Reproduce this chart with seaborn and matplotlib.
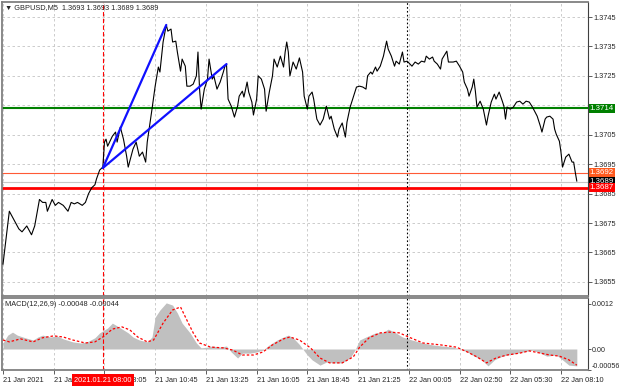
import matplotlib
matplotlib.use('Agg')
import matplotlib.pyplot as plt
import seaborn as sns
import pandas as pd

# GBPUSD M5 close, bar index -> price
price_bar = [0, 4, 6, 10, 12, 15, 18, 20, 23, 25, 27, 28, 31, 33, 35, 38, 41, 43, 45, 47,
             50, 52, 54, 56, 58, 59, 61, 63,
             64, 65, 66, 69, 71, 72, 74, 76, 78, 79, 82, 84, 86, 88, 90, 91, 94, 96, 98, 99,
             101, 103, 104, 106, 107, 109, 110, 112, 113, 115, 116, 118, 120, 122, 123, 124, 125, 127, 129, 130,
             132, 133, 135, 137, 139, 140, 141, 142, 144, 146, 148, 149, 151, 152, 154, 155, 157, 158, 160, 161,
             163, 165, 166, 168, 170, 171, 173, 175, 177, 178, 179, 180,
             181, 183, 185, 187, 189, 190, 192, 193, 195, 196, 198, 200, 202, 204, 206, 207, 209, 211, 212, 214,
             216, 217, 219, 221, 223, 225, 227, 229, 230, 232, 233, 235, 236, 238, 240, 242, 243, 245, 247, 248,
             250, 252, 253, 255, 258, 260, 262, 264, 266, 267, 269, 271, 272, 274, 276, 277, 280, 281, 284, 286,
             288, 290, 291, 293, 294, 296, 297, 298, 299, 301, 303, 305, 306, 308, 310, 311, 313, 315, 316, 317,
             318, 320, 322, 324, 326, 328, 330, 332, 334, 337, 339, 340, 342, 343, 345, 347, 348, 349, 351, 352,
             353, 355, 357, 359, 360, 361, 362]
price_val = [1.3661, 1.3679, 1.3677, 1.3673, 1.3672, 1.3674, 1.3671, 1.3674, 1.3683, 1.3682, 1.3682, 1.3679, 1.3683, 1.3681, 1.3682, 1.3681, 1.3679, 1.3682, 1.36815, 1.3682,
             1.3681, 1.3682, 1.3685, 1.3687, 1.3688, 1.3690, 1.3693, 1.3694,
             1.37025, 1.37035, 1.37011, 1.37045, 1.37059, 1.37025, 1.37076, 1.37035, 1.36977, 1.3694, 1.37001, 1.37025, 1.36977, 1.36991, 1.36957, 1.37025, 1.37137, 1.37215, 1.3728, 1.37263,
             1.37365, 1.37423, 1.37402, 1.37409, 1.37365, 1.37368, 1.37331, 1.37266, 1.37307, 1.37283, 1.37215, 1.37215, 1.37222, 1.3725, 1.37331, 1.37205, 1.37137, 1.37205, 1.37239, 1.37307,
             1.37239, 1.3725, 1.37205, 1.37229, 1.37263, 1.37283, 1.3729, 1.37171, 1.37147, 1.3711, 1.37147, 1.37181, 1.37198, 1.37178, 1.37229, 1.37195, 1.37161, 1.37117, 1.37171, 1.3725,
             1.37239, 1.37205, 1.3713, 1.37195, 1.3725, 1.37307, 1.3728, 1.37317, 1.3728, 1.37331, 1.37365, 1.37331,
             1.3725, 1.37297, 1.37273, 1.37311, 1.37263, 1.37181, 1.37137, 1.37181, 1.37195, 1.37171, 1.37103, 1.37083, 1.37103, 1.37147, 1.37103, 1.37113, 1.37069, 1.37042, 1.37069, 1.3709,
             1.37042, 1.37093, 1.37144, 1.37178, 1.37212, 1.37215, 1.37212, 1.37205, 1.3725, 1.37263, 1.37256, 1.3728, 1.37266, 1.37283, 1.37317, 1.37368, 1.37341, 1.37317, 1.37283, 1.373,
             1.3729, 1.37331, 1.37297, 1.373, 1.37283, 1.37297, 1.3729, 1.373, 1.37297, 1.37317, 1.37307, 1.37314, 1.373, 1.3729, 1.37273, 1.37307, 1.37334, 1.37297, 1.37297, 1.373,
             1.37283, 1.37263, 1.37229, 1.37205, 1.37181, 1.37212, 1.37239, 1.37198, 1.37144, 1.37164, 1.37137, 1.37083, 1.37113, 1.37161, 1.37188, 1.37171, 1.37195, 1.37164, 1.37147, 1.37103,
             1.37144, 1.37137, 1.37144, 1.37161, 1.37164, 1.37154, 1.37164, 1.37161, 1.37144, 1.37113, 1.37079, 1.37059, 1.37103, 1.3711, 1.37113, 1.37103, 1.37069, 1.37052, 1.37028, 1.36991,
             1.3694, 1.36974, 1.36984, 1.36957, 1.36957, 1.36923, 1.36892]

# MACD(12,26,9): main as histogram, signal as dotted line
hist_bar = [0, 3, 6, 9, 14, 19, 22, 25, 30, 34, 38, 44, 49, 53, 58, 61, 66, 69, 73, 76,
            79, 82, 86, 91, 94, 96, 99, 103, 107, 110, 113, 118, 122, 125, 129, 132, 137, 141, 144, 148,
            151, 156, 160, 164, 168, 173, 177, 180, 183, 187, 190, 192, 195, 200, 204, 208, 214, 219, 222, 225,
            229, 235, 240, 243, 247, 252, 258, 265, 271, 277, 284, 288, 293, 296, 302, 306, 310, 315, 322, 328,
            334, 339, 343, 349, 353, 357, 362]
hist_val = [0.00016, 0.00037, 0.00045, 0.00037, 0.0003, 0.00024, 0.00032, 0.00037, 0.00032, 0.00035,
            0.00027, 0.00019, 0.00016, 0.00019, 0.0003, 0.00043, 0.00056, 0.00069, 0.00059, 0.00051,
            0.00043, 0.00032, 0.00024, 0.00019, 0.00032, 0.00085, 0.00104, 0.00123, 0.00117, 0.00096,
            0.00069, 0.00043, 0.00016, 0.00003, 0.00005, 0.00008, 0.00005, 0.00008, -0.00008, -0.00024,
            -0.00011, -0.00011, -0.00008, -0.00003, 0.00011, 0.00024, 0.00032, 0.00037, 0.0003, 0.00012,
            -0.00005, -0.00016, -0.00029, -0.00043, -0.00035, -0.00037, -0.00037, -0.00024, -0.00003, 0.00024,
            0.00032, 0.00043, 0.00045, 0.00053, 0.00045, 0.00032, 0.00024, 0.00016, 0.00011, 0.00008,
            0.00005, 0.0, -0.00008, -0.00016, -0.00029, -0.00045, -0.00029, -0.00019, -0.00013, -0.00008,
            -0.00003, -0.00011, -0.00019, -0.00016, -0.00029, -0.00043, -0.00045]
sig_bar = [0, 4, 11, 19, 25, 32, 38, 44, 52, 58, 63, 69, 75, 80, 85, 91, 95, 101, 107, 112,
           116, 120, 124, 131, 139, 145, 151, 158, 164, 170, 177, 181, 187, 194, 200, 206, 214, 221, 225, 231,
           238, 244, 250, 257, 265, 276, 286, 293, 299, 305, 311, 318, 326, 332, 339, 345, 351, 357, 362]
sig_val = [0.00024, 0.00019, 0.00027, 0.00019, 0.0003, 0.00035, 0.00032, 0.00024, 0.00016, 0.00019,
           0.00032, 0.00053, 0.00059, 0.00051, 0.00032, 0.00019, 0.00024, 0.00069, 0.00104, 0.00112,
           0.00077, 0.00043, 0.00016, 0.00005, 0.00003, -0.00003, -0.00016, -0.00016, -0.00008, 0.00011,
           0.00027, 0.00032, 0.00024, 0.00003, -0.00024, -0.00037, -0.00037, -0.00021, 0.00005, 0.0003,
           0.00043, 0.00045, 0.00043, 0.0003, 0.00016, 0.00011, 0.00005, -0.00008, -0.00021, -0.00037,
           -0.00024, -0.00016, -0.00011, -0.00005, -0.00011, -0.00016, -0.00019, -0.00029, -0.00043]

# drawn objects
trend_a_bar, trend_a_val = [63, 103], [1.36937, 1.37423]
trend_b_bar, trend_b_val = [63, 141], [1.36937, 1.3729]
level_green, level_red, level_orange, bid = 1.3714, 1.3687, 1.3692, 1.3689
vline_bar, sep_bar = 63, 255

price_ticks = [1.3655, 1.3665, 1.3675, 1.3685, 1.3695, 1.3705, 1.3715, 1.3725, 1.3735, 1.3745]
price_labels = ['1.3655', '1.3665', '1.3675', '1.3685', '1.3695', '1.3705', '', '1.3725', '1.3735', '1.3745']
macd_ticks = [-0.00056, 0.0, 0.0012]
macd_labels = ['-0.00056', '0.00', '0.0012']
time_ticks = [0, 32, 64, 96, 128, 160, 192, 224, 256, 288, 320, 352]
time_labels = ['21 Jan 2021', '21 Jan 05:25', '21 Jan 08:05', '21 Jan 10:45', '21 Jan 13:25', '21 Jan 16:05',
               '21 Jan 18:45', '21 Jan 21:25', '22 Jan 00:05', '22 Jan 02:50', '22 Jan 05:30', '22 Jan 08:10']

df = pd.DataFrame({'bar': price_bar, 'price': price_val})
hist = pd.DataFrame({'bar': hist_bar, 'macd': hist_val})
sig = pd.DataFrame({'bar': sig_bar, 'signal': sig_val})

sns.set_style('white')
plt.rcParams['font.family'] = ['Liberation Sans', 'DejaVu Sans']
plt.rcParams['font.size'] = 5.3
FS = 5.3

W, H = 620, 388
fig = plt.figure(figsize=(6.2, 3.88), dpi=100)
x0, x1 = 2.2 / W, 587.6 / W
ax = fig.add_axes([x0, 1 - 296 / H, x1 - x0, 294 / H])
ax2 = fig.add_axes([x0, 1 - 370 / H, x1 - x0, 72 / H], sharex=ax)

grid_kw = dict(color='#c4c4c4', ls=(0, (3, 3)), lw=0.6)

# price panel
sns.lineplot(data=df, x='bar', y='price', ax=ax, color='black', lw=0.8, estimator=None, zorder=3)
sns.lineplot(x=trend_a_bar, y=trend_a_val, ax=ax, color='#1010ff', lw=1.6, zorder=4)
sns.lineplot(x=trend_b_bar, y=trend_b_val, ax=ax, color='#1010ff', lw=1.6, zorder=4)
ax.axhline(level_green, color='#008000', lw=1.5, zorder=2)
ax.axhline(level_orange, color='#ff5a36', lw=0.8, zorder=2)
ax.axhline(bid, color='#c8c8c8', lw=0.8, zorder=2)
ax.axhline(level_red, color='#ff0000', lw=2.0, zorder=2)
for a in (ax, ax2):
    a.axvline(vline_bar, color='#ff0000', ls=(0, (4, 2)), lw=0.8, zorder=2)
    a.axvline(sep_bar, color='black', ls=(0, (1.5, 2)), lw=0.8, zorder=2)

ax.set_xlim(-0.5, 368.8)
ax.set_ylim(1.36502, 1.37501)
ax.yaxis.tick_right()
ax.set_yticks(price_ticks)
ax.set_yticklabels(price_labels)
ax.set_xticks(time_ticks)
ax.grid(True, **grid_kw)
ax.tick_params(axis='y', length=3, width=0.6, pad=1.2, labelsize=FS, color='#404040')
ax.tick_params(axis='x', length=0, labelbottom=False)
ax.set_xlabel('')
ax.set_ylabel('')

def price_tag(a, y, text, fc, zo):
    a.annotate(text, xy=(1, y), xycoords=('axes fraction', 'data'), xytext=(1.6, 0),
               textcoords='offset points', ha='left', va='center', color='white', fontsize=5.7,
               bbox=dict(boxstyle='square,pad=0.15', fc=fc, ec='none'),
               annotation_clip=False, zorder=zo)

price_tag(ax, level_green, '1.3714', '#008000', 5)
price_tag(ax, level_orange, '1.3692', '#ff5a1e', 5)
price_tag(ax, bid, '1.3689', '#000000', 6)
price_tag(ax, level_red, '1.3687', '#ff0000', 7)

# MACD panel
ax2.fill_between(hist['bar'], 0, hist['macd'], color='#c0c0c0', lw=0, zorder=1)
sns.lineplot(data=sig, x='bar', y='signal', ax=ax2, color='#ff0000', lw=0.9, zorder=3)
ax2.lines[-1].set_linestyle((0, (2, 1.6)))
ax2.set_ylim(-0.00056, 0.00136)
ax2.yaxis.tick_right()
ax2.set_yticks(macd_ticks)
ax2.set_yticklabels(macd_labels)
ax2.set_xticks(time_ticks)
ax2.set_xticklabels(time_labels, ha='left')
ax2.xaxis.grid(True, **grid_kw)
ax2.yaxis.grid(False)
ax2.tick_params(axis='y', length=2.5, width=0.6, pad=0.8, labelsize=5.1, color='#404040')
ax2.tick_params(axis='x', length=3, width=0.6, pad=2, labelsize=FS, color='#404040', bottom=True)
ax2.set_xlabel('')
ax2.set_ylabel('')
for t in ax2.get_yticklabels():
    if t.get_text() == '-0.00056':
        t.set_va('bottom')

ax2.annotate('2021.01.21 08:00', xy=(vline_bar, 0), xycoords=('data', 'axes fraction'), xytext=(0, -7.3),
             textcoords='offset points', ha='center', va='center', color='white', fontsize=FS,
             bbox=dict(boxstyle='square,pad=0.35', fc='#ff0000', ec='none'), annotation_clip=False, zorder=8)

for a in (ax, ax2):
    for s in a.spines.values():
        s.set_color('#808080')
        s.set_linewidth(1.3)
    a.spines['right'].set_color('#404040')
    a.spines['right'].set_linewidth(0.8)

fig.text(5 / W, 1 - 8 / H, '\u25bc GBPUSD,M5  1.3693 1.3693 1.3689 1.3689', fontsize=FS, va='center', ha='left')
fig.text(5 / W, 1 - 305 / H, 'MACD(12,26,9) -0.00048 -0.00044', fontsize=FS, va='center', ha='left')

fig.savefig('out.png', dpi=100)
